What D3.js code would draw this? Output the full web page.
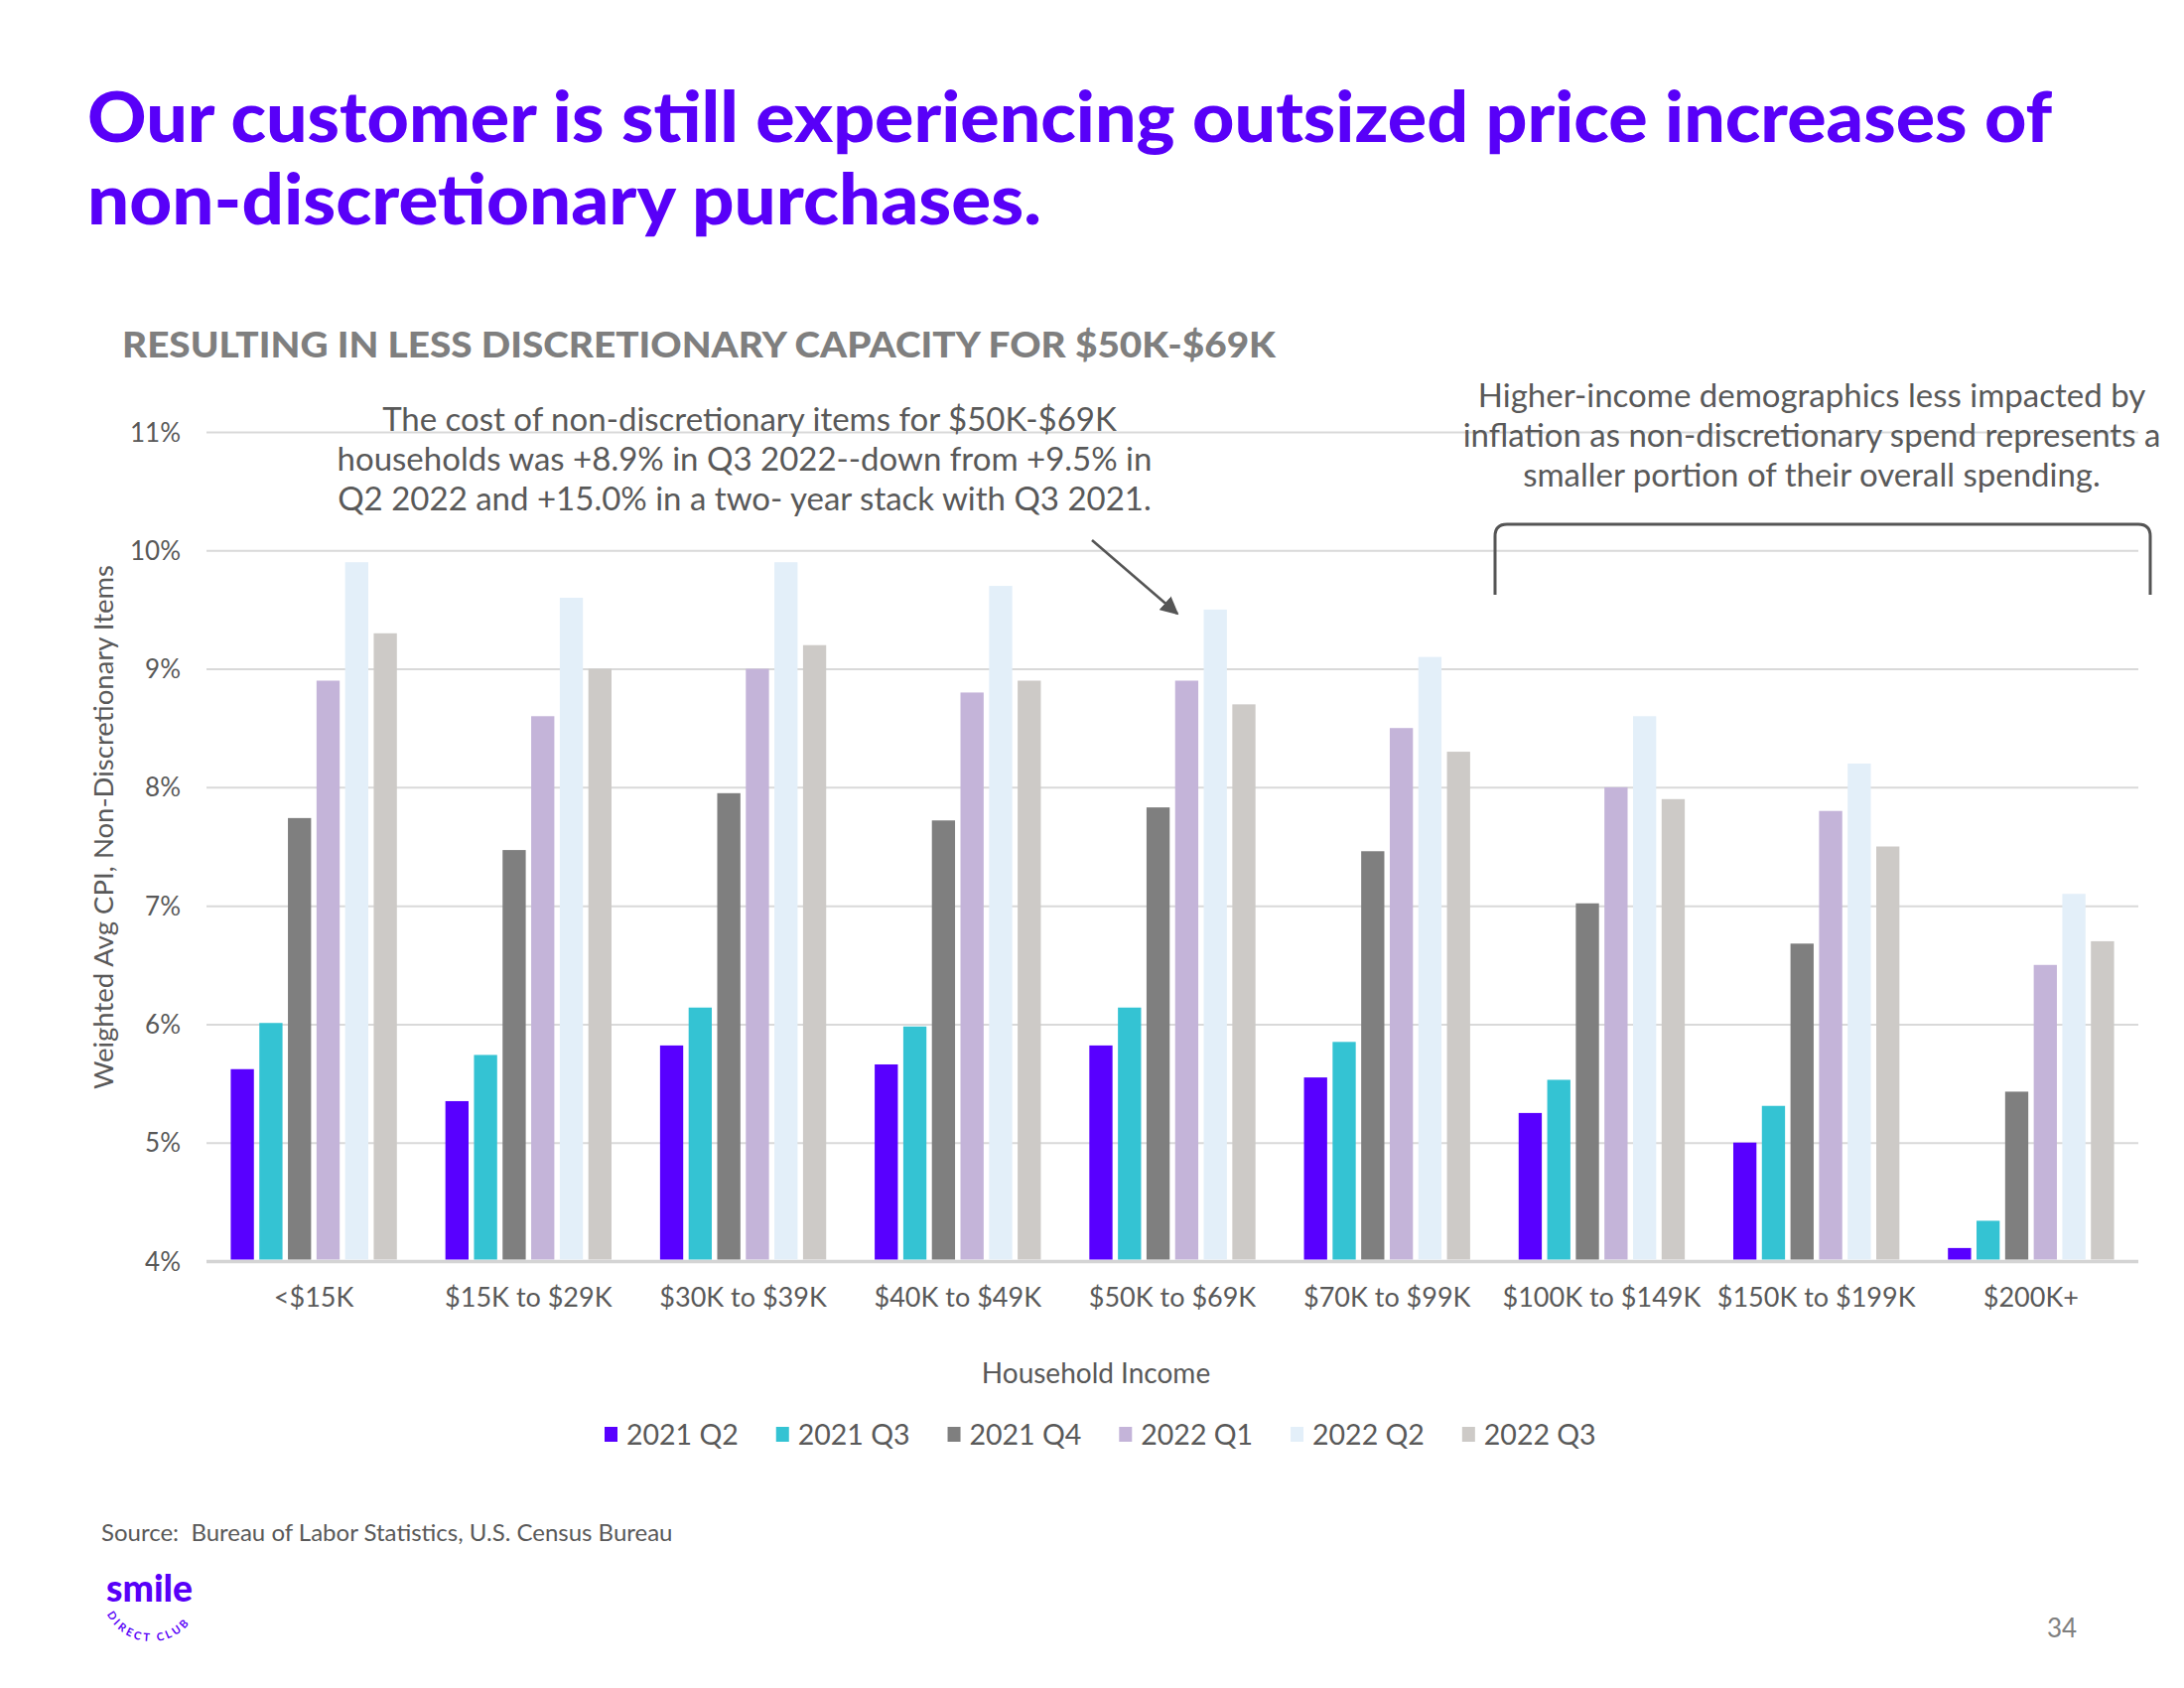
<!DOCTYPE html>
<html><head><meta charset="utf-8">
<script src="https://cdn.jsdelivr.net/npm/d3@7"></script>
<style>body{margin:0;background:#fff;} svg{display:block;} text{white-space:pre;}</style>
</head><body>
<svg id="chart" width="2200" height="1700"></svg>
<script>
// ---- data ----
const categories = ["<$15K","$15K to $29K","$30K to $39K","$40K to $49K","$50K to $69K","$70K to $99K","$100K to $149K","$150K to $199K","$200K+"];
const seriesNames = ["2021 Q2","2021 Q3","2021 Q4","2022 Q1","2022 Q2","2022 Q3"];
const v2021Q2 = [5.62,5.35,5.82,5.66,5.82,5.55,5.25,5.00,4.11];
const v2021Q3 = [6.01,5.74,6.14,5.98,6.14,5.85,5.53,5.31,4.34];
const v2021Q4 = [7.74,7.47,7.95,7.72,7.83,7.46,7.02,6.68,5.43];
const v2022Q1 = [8.9,8.6,9.0,8.8,8.9,8.5,8.0,7.8,6.5];
const v2022Q2 = [9.9,9.6,9.9,9.7,9.5,9.1,8.6,8.2,7.1];
const v2022Q3 = [9.3,9.0,9.2,8.9,8.7,8.3,7.9,7.5,6.7];
const seriesValues = [v2021Q2,v2021Q3,v2021Q4,v2022Q1,v2022Q2,v2022Q3];
const seriesColors = ["#5800ff","#34c3d3","#7f7f7f","#c4b4d9","#e3eff9","#cdcac7"];
const yTicks = [4,5,6,7,8,9,10,11];
const titleLines = ["Our customer is still experiencing outsized price increases of","non-discretionary purchases."];
const subtitle = "RESULTING IN LESS DISCRETIONARY CAPACITY FOR $50K-$69K";
const note1 = ["The cost of non-discretionary items for $50K-$69K","households was +8.9% in Q3 2022--down from +9.5% in","Q2 2022 and +15.0% in a two- year stack with Q3 2021."];
const note2 = ["Higher-income demographics less impacted by","inflation as non-discretionary spend represents a","smaller portion of their overall spending."];
const yTitle = "Weighted Avg CPI, Non-Discretionary Items";
const xTitle = "Household Income";
const sourceText = "Source:  Bureau of Labor Statistics, U.S. Census Bureau";

// ---- drawing ----
const FONT = "Lato, 'Open Sans', sans-serif";
const TXT = "#595959";
const svg = d3.select("#chart");
svg.append("rect").attr("width",2200).attr("height",1700).attr("fill","#fff");

const left = 208, right = 2154;
const x0 = d3.scaleBand().domain(categories).range([left,right]).paddingInner(0.226).paddingOuter(0.113);
const x1 = d3.scaleBand().domain(seriesNames).range([0,x0.bandwidth()]).paddingInner(0.19);
const y = d3.scaleLinear().domain([4,11]).range([1270,435]);

// y grid + labels
const yAxis = svg.append("g").attr("transform",`translate(${left},0)`)
  .call(d3.axisLeft(y).tickValues(yTicks).tickSize(-(right-left)).tickPadding(26).tickFormat(d=>d+"%"));
yAxis.select(".domain").remove();
yAxis.selectAll(".tick line").attr("stroke","#d9d9d9").attr("stroke-width",2);
yAxis.selectAll(".tick text").attr("fill",TXT).style("font-family",FONT).style("font-size","26px").attr("dy","0.35em");
yAxis.selectAll(".tick").filter(d=>d===4).select("line").attr("stroke-width",3.5).attr("stroke","#d4d4d4");

// bars
const groups = svg.append("g").selectAll("g").data(seriesNames).join("g")
  .attr("fill",(d,i)=>seriesColors[i]);
groups.selectAll("rect").data((s,i)=>seriesValues[i].map((v,j)=>({s,v,c:categories[j]})))
  .join("rect")
  .attr("x",d=>x0(d.c)+x1(d.s))
  .attr("width",x1.bandwidth())
  .attr("y",d=>y(d.v))
  .attr("height",d=>y(4)-y(d.v)-1.5);

// x axis labels
const xAxis = svg.append("g").attr("transform",`translate(0,${y(4)})`)
  .call(d3.axisBottom(x0).tickSize(0).tickPadding(27));
xAxis.select(".domain").remove();
xAxis.selectAll(".tick text").attr("fill",TXT).style("font-family",FONT).style("font-size","27px");

// axis titles
svg.append("text").attr("transform","translate(114,833) rotate(-90)").attr("text-anchor","middle")
  .attr("fill",TXT).style("font-family",FONT).style("font-size","27.5px").text(yTitle);
svg.append("text").attr("x",1104).attr("y",1393).attr("text-anchor","middle")
  .attr("fill",TXT).style("font-family",FONT).style("font-size","28px").text(xTitle);

// legend
const leg = svg.append("g");
let lx = 609;
seriesNames.forEach((s,i)=>{
  leg.append("rect").attr("x",lx).attr("y",1437).attr("width",13).attr("height",15).attr("fill",seriesColors[i]);
  const t = leg.append("text").attr("x",lx+22).attr("y",1455).attr("fill",TXT)
    .style("font-family",FONT).style("font-size","28.5px").text(s);
  lx += 22 + t.node().getComputedTextLength() + 38;
});

// title
titleLines.forEach((l,i)=>{
  svg.append("text").attr("x",88).attr("y",[143,226][i]).attr("fill","#5800f8")
    .style("font-family",FONT).style("font-weight",900).style("font-size","70px")
    .attr("textLength",[1979,961][i]).attr("lengthAdjust","spacingAndGlyphs").text(l);
});
svg.append("text").attr("x",123).attr("y",360).attr("fill","#7f7f7f")
  .style("font-family",FONT).style("font-weight",900).style("font-size","36px")
  .attr("textLength",1162).attr("lengthAdjust","spacingAndGlyphs").text(subtitle);

// annotations
[755,750,750].forEach((cx,i)=>{
  svg.append("text").attr("x",cx).attr("y",434+i*40).attr("text-anchor","middle").attr("fill",TXT)
    .style("font-family",FONT).style("font-size","33px").text(note1[i]);
});
note2.forEach((l,i)=>{
  svg.append("text").attr("x",1825).attr("y",410+i*40).attr("text-anchor","middle").attr("fill",TXT)
    .style("font-family",FONT).style("font-size","33px").text(l);
});

// bracket
svg.append("path").attr("d","M1506,599 L1506,540 Q1506,528 1518,528 L2154,528 Q2166,528 2166,540 L2166,599")
  .attr("fill","none").attr("stroke","#555").attr("stroke-width",3);

// arrow
const defs = svg.append("defs");
defs.append("marker").attr("id","ah").attr("viewBox","0 0 10 10").attr("refX",9).attr("refY",5)
  .attr("markerWidth",7).attr("markerHeight",7).attr("orient","auto").attr("markerUnits","strokeWidth")
  .append("path").attr("d","M0,0 L10,5 L0,10 z").attr("fill","#555");
svg.append("line").attr("x1",1100).attr("y1",544).attr("x2",1186).attr("y2",618)
  .attr("stroke","#555").attr("stroke-width",2.6).attr("marker-end","url(#ah)");

// source
svg.append("text").attr("x",102).attr("y",1552).attr("fill",TXT)
  .style("font-family",FONT).style("font-size","24px").text(sourceText);

// logo
svg.append("text").attr("x",107).attr("y",1613).attr("fill","#5800f8")
  .style("font-family",FONT).style("font-weight",900).style("font-size","38px")
  .attr("textLength",87).attr("lengthAdjust","spacingAndGlyphs").text("smile");
defs.append("path").attr("id","arc").attr("d","M106,1622 A50,50 0 0 0 200,1618");
svg.append("text").attr("fill","#5800f8").style("font-family",FONT).style("font-weight",700)
  .style("font-size","11px").style("letter-spacing","2.9px")
  .append("textPath").attr("href","#arc").attr("startOffset","4").text("DIRECT CLUB");

// page number
svg.append("text").attr("x",2062).attr("y",1649).attr("fill","#808080")
  .style("font-family",FONT).style("font-size","26px").text("34");
</script>
</body></html>
